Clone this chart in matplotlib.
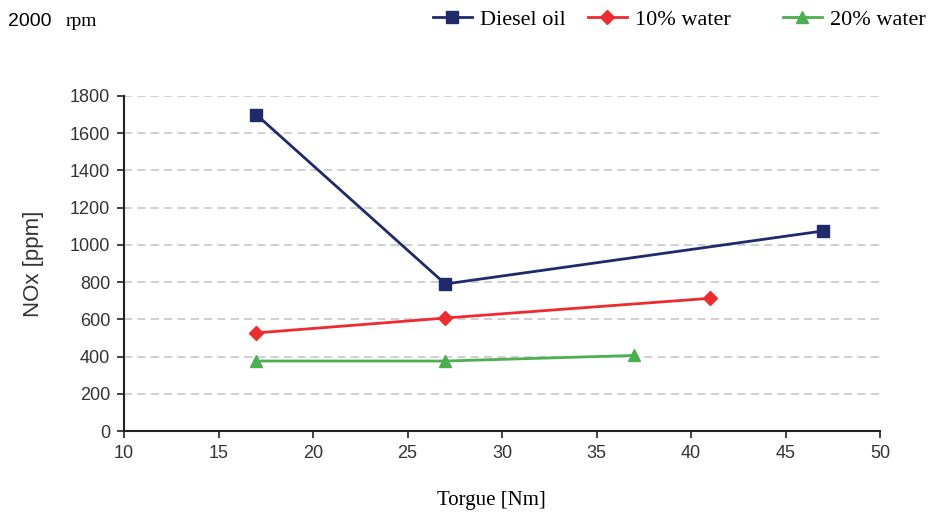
import matplotlib
matplotlib.use("Agg")
import matplotlib.pyplot as plt

diesel_x = [17, 27, 47]
diesel_y = [1700, 790, 1075]
w10_x = [17, 27, 41]
w10_y = [527, 607, 713]
w20_x = [17, 27, 37]
w20_y = [376, 376, 406]

fig = plt.figure(figsize=(9.35, 5.22), dpi=100)
ax = fig.add_axes([124/935, 1-431/522, (880-124)/935, (431-96)/522])

sans = "Liberation Sans"
serif = "Liberation Serif"

l1, = ax.plot(diesel_x, diesel_y, color="#1f2a6b", marker="s", markersize=8, lw=2, label="Diesel oil", clip_on=False)
l2, = ax.plot(w10_x, w10_y, color="#ee2b2e", marker="D", markersize=7, lw=2, label="10% water", clip_on=False)
l3, = ax.plot(w20_x, w20_y, color="#4caf50", marker="^", markersize=9, lw=2, label="20% water", clip_on=False)

ax.set_xlim(10, 50)
ax.set_ylim(0, 1800)
ax.set_xticks(range(10, 51, 5))
ax.set_yticks(range(0, 1801, 200))
ax.yaxis.grid(True, linestyle=(0, (5, 3)), color="#c8c8cc", lw=1.2)
ax.set_axisbelow(True)
for s in ["top", "right"]:
    ax.spines[s].set_visible(False)
for s in ["left", "bottom"]:
    ax.spines[s].set_linewidth(1.5)
    ax.spines[s].set_color("#222222")
ax.tick_params(direction="out", length=5, width=1.2, labelsize=13, color="#222222", pad=5)
for lab in ax.get_xticklabels() + ax.get_yticklabels():
    lab.set_fontfamily(sans)
    lab.set_color("#333333")

ax.set_ylabel("NOx [ppm]", fontfamily=sans, fontsize=16, color="#333333")
ax.yaxis.set_label_coords((44-124)/756, 0.5)
ax.set_xlabel("Torgue [Nm]", fontfamily=serif, fontsize=15, va="center")
ax.xaxis.set_label_coords((491-124)/756, (431-500)/335)

fig.text(8/935, 1-26/522, "2000", fontfamily=sans, fontsize=14, va="baseline", ha="left")
fig.text(66/935, 1-26/522, "rpm", fontfamily=serif, fontsize=14, va="baseline", ha="left")

legend_x = [433, 588, 783]
for handle, lx in zip([l1, l2, l3], legend_x):
    fig.legend(handles=[handle], loc="center left", bbox_to_anchor=(lx/935, 1-20/522),
               frameon=False, prop={"family": serif, "size": 16}, handlelength=1.75,
               handletextpad=0.35, borderaxespad=0, borderpad=0)

fig.savefig("out.png", dpi=100)
